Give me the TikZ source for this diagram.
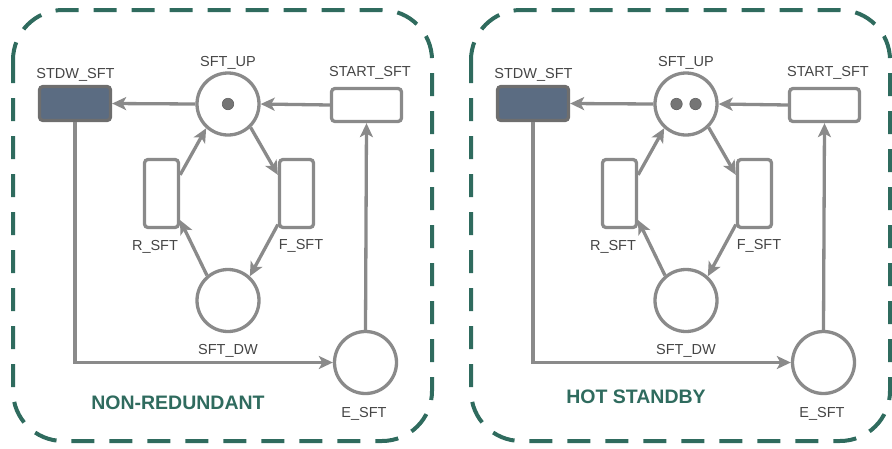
\documentclass[tikz,border=0pt]{standalone}
\usepackage{fontspec}
\setmainfont{Liberation Sans}
\usetikzlibrary{arrows.meta}
\definecolor{edge}{HTML}{8A8A8A}
\definecolor{tealb}{HTML}{2F6B5E}
\definecolor{slate}{HTML}{5B6C82}
\definecolor{txt}{HTML}{454545}
\tikzset{
 place/.style={circle, draw=edge, line width=3.3pt, minimum size=62pt, inner sep=0pt, fill=white},
 trans/.style={rectangle, rounded corners=3.5pt, draw=edge, line width=3.3pt, inner sep=0pt, fill=white},
 arc/.style={draw=edge, line width=3.3pt, -{Stealth[length=14pt,width=13pt,inset=3.5pt]}},
 lbl/.style={text=txt, font=\fontsize{14.5}{16}\selectfont, anchor=base, inner sep=0pt},
 panel/.style={draw=tealb, line width=4pt, dash pattern=on 23pt off 15pt, rounded corners=50pt},
 title/.style={text=tealb, font=\bfseries\fontsize{19.5}{22}\selectfont, anchor=base, inner sep=0pt},
 token/.style={circle, fill=edge!85!black, draw=edge!70!black, line width=0.6pt, minimum size=11.5pt, inner sep=0pt},
}
\begin{document}
\begin{tikzpicture}[x=1pt,y=-1pt]
\useasboundingbox (0,0) rectangle (892,448);
\foreach \p/\dx/\lab/\ly in {L/0/NON-REDUNDANT/409, R/458/HOT STANDBY/403}{
\begin{scope}[shift={(\dx,0)}]
 \draw[panel] (13,10) rectangle (432,441);
 \node[trans, fill=slate, draw=edge!80!black, minimum width=71pt, minimum height=34pt] (\p-stdw) at (75,103.5) {};
 \node[place] (\p-up) at (228,104) {};
 \node[trans, minimum width=70pt, minimum height=33pt] (\p-start) at (366.5,105) {};
 \node[trans, minimum width=34pt, minimum height=68pt] (\p-r) at (161.5,193.5) {};
 \node[trans, minimum width=34pt, minimum height=68pt] (\p-f) at (296.5,193.5) {};
 \node[place] (\p-dw) at (228,300.5) {};
 \node[place] (\p-e) at (365.5,362.5) {};
 \node[lbl] (\p-lstdw) at (75.5,78) {STDW\_SFT};
 \node[lbl] (\p-lup) at (228,66) {SFT\_UP};
 \node[lbl] (\p-lstart) at (370,76) {START\_SFT};
 \node[lbl] (\p-lr) at (155,250) {R\_SFT};
 \node[lbl] (\p-lf) at (301,249) {F\_SFT};
 \node[lbl] (\p-ldw) at (228,354) {SFT\_DW};
 \node[lbl] (\p-le) at (364,417) {E\_SFT};
 \node[title] (\p-title) at (178,\ly) {\lab};
 \draw[arc] (\p-up.west) -- (\p-stdw.east);
 \draw[arc] (\p-start.west) -- (\p-up.east);
 \draw[arc] (\p-r.45) -- (\p-up.228);
 \draw[arc] (\p-up.314) -- (\p-f.135);
 \draw[arc] (\p-dw.130) -- (\p-r.-55);
 \draw[arc] (\p-f.-121) -- (\p-dw.48);
 \draw[arc] (\p-stdw.south) |- (\p-e.west);
 \draw[arc] (\p-e.north) -- (\p-start.south);
\end{scope}
}
\node[token] (tokL) at (L-up) {};
\node[token] (tokR1) at ([xshift=-9.5pt]R-up.center) {};
\node[token] (tokR2) at ([xshift=9.5pt]R-up.center) {};
\end{tikzpicture}
\end{document}
